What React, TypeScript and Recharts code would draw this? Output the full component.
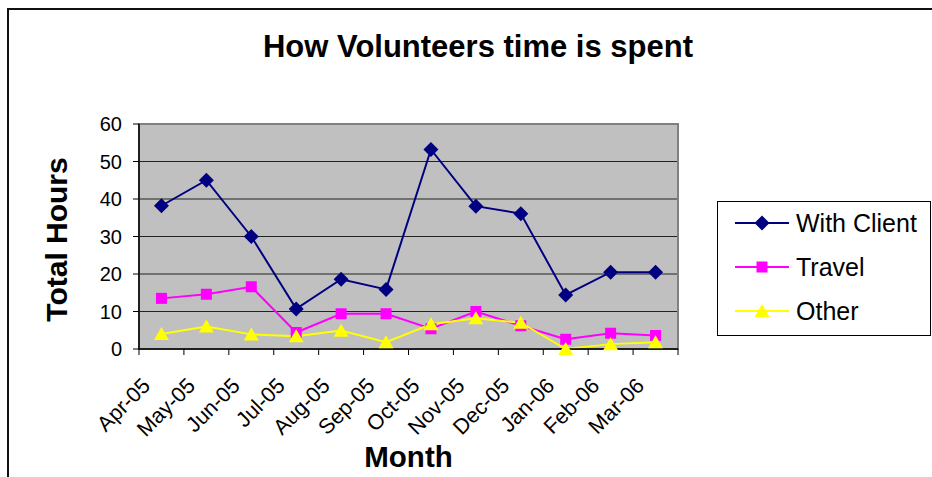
import React from 'react';
import { LineChart, Line, XAxis, YAxis, CartesianGrid, ReferenceArea, Legend, Label } from 'recharts';

const months = ['Apr-05', 'May-05', 'Jun-05', 'Jul-05', 'Aug-05', 'Sep-05', 'Oct-05', 'Nov-05', 'Dec-05', 'Jan-06', 'Feb-06', 'Mar-06'];
const withClient = [38.2, 45, 30, 10.7, 18.6, 15.9, 53.2, 38.1, 36.1, 14.4, 20.5, 20.5];
const travel = [13.5, 14.6, 16.6, 4.4, 9.4, 9.4, 5.4, 10, 6.2, 2.6, 4.2, 3.6];
const other = [4.0, 6.0, 3.9, 3.4, 4.9, 1.8, 6.6, 8.2, 7.0, 0, 1.3, 1.8];
const yTicks = [0, 10, 20, 30, 40, 50, 60];

const data = months.map((m, i) => ({
  pos: i + 0.5,
  month: m,
  client: withClient[i],
  travel: travel[i],
  other: other[i],
}));

const xTicks: number[] = [];
for (let i = 0; i <= months.length * 2; i++) xTicks.push(i / 2);

const FONT = '"Liberation Sans", Arial, sans-serif';

const Diamond = (props: any) => {
  const { cx, cy, fill } = props;
  if (cx == null || cy == null) return null;
  const r = 7.5;
  return <polygon points={`${cx},${cy - r} ${cx + r},${cy} ${cx},${cy + r} ${cx - r},${cy}`} fill={fill} />;
};
const Square = (props: any) => {
  const { cx, cy, fill } = props;
  if (cx == null || cy == null) return null;
  const s = 11;
  return <rect x={cx - s / 2} y={cy - s / 2} width={s} height={s} fill={fill} />;
};
const Triangle = (props: any) => {
  const { cx, cy, fill } = props;
  if (cx == null || cy == null) return null;
  return <polygon points={`${cx},${cy - 7} ${cx + 7.5},${cy + 6} ${cx - 7.5},${cy + 6}`} fill={fill} />;
};

const series = [
  { key: 'client', name: 'With Client', color: '#000080', Shape: Diamond },
  { key: 'travel', name: 'Travel', color: '#FF00FF', Shape: Square },
  { key: 'other', name: 'Other', color: '#FFFF00', Shape: Triangle },
];

const XTick = (props: any) => {
  const { x, y, payload } = props;
  const v = payload.value as number;
  if (Number.isInteger(v)) {
    return <line x1={x} x2={x} y1={y - 8} y2={y - 2} stroke="#000" strokeWidth={1} />;
  }
  const label = months[Math.floor(v)];
  const ax = x - 10;
  const ay = y + 30;
  return (
    <text x={ax} y={ay} textAnchor="end" fontSize={21.5} fontFamily={FONT} fill="#000" transform={`rotate(-45 ${ax} ${ay})`}>
      {label}
    </text>
  );
};

const LegendContent = () => (
  <div style={{ width: 212, height: 133, border: '1px solid #000', background: '#fff' }}>
    <svg width={212} height={133}>
      {series.map((s, i) => {
        const cy = 21 + i * 44;
        const Shape = s.Shape;
        return (
          <g key={s.key}>
            <line x1={17} x2={71} y1={cy} y2={cy} stroke={s.color} strokeWidth={2} />
            <Shape cx={44} cy={cy} fill={s.color} />
            <text x={78} y={cy + 9} fontSize={25} fontFamily={FONT} fill="#000">{s.name}</text>
          </g>
        );
      })}
    </svg>
  </div>
);

export default function App() {
  return (
    <div style={{ position: 'absolute', left: 0, top: 0, width: 932, height: 477, background: '#fff', overflow: 'hidden' }}>
      <div style={{ position: 'absolute', left: 7, top: 8, width: 940, height: 480, borderLeft: '2px solid #111', borderTop: '2px solid #111' }} />
      <div style={{ position: 'absolute', left: 0, top: 29, width: 956, textAlign: 'center', fontFamily: FONT, fontWeight: 'bold', fontSize: 31, color: '#000', lineHeight: '36px' }}>
        How Volunteers time is spent
      </div>
      <div style={{ position: 'absolute', left: 0, top: 0 }}>
        <LineChart width={932} height={477} data={data} margin={{ top: 124, right: 254, bottom: 0, left: 0 }}>
          <CartesianGrid horizontal vertical={false} stroke="#222" fill="#C0C0C0" fillOpacity={1} />
          <ReferenceArea x1={0} x2={12} y1={0} y2={60} fill="none" stroke="#808080" strokeWidth={2} ifOverflow="visible" />
          <XAxis
            type="number"
            dataKey="pos"
            domain={[0, 12]}
            ticks={xTicks}
            interval={0}
            height={128}
            tickLine={false}
            axisLine={{ stroke: '#000', strokeWidth: 1.5 }}
            tick={<XTick />}
            allowDecimals
          >
            <Label
              content={(p: any) => {
                const vb = p.viewBox;
                return (
                  <text x={vb.x + vb.width / 2} y={vb.y + 118} textAnchor="middle" fontSize={29.5} fontWeight="bold" fontFamily={FONT} fill="#000">
                    Month
                  </text>
                );
              }}
            />
          </XAxis>
          <YAxis
            domain={[0, 60]}
            ticks={yTicks}
            width={139}
            tickSize={6}
            tickLine={{ stroke: '#000' }}
            axisLine={{ stroke: '#000', strokeWidth: 1.5 }}
            tick={{ fill: '#000', fontSize: 20, fontFamily: FONT }}
            tickMargin={11}
          >
            <Label
              content={(p: any) => {
                const vb = p.viewBox;
                const cx = vb.x + 67;
                const cy = vb.y + vb.height / 2 + 3;
                return (
                  <text x={cx} y={cy} textAnchor="middle" fontSize={30} fontWeight="bold" fontFamily={FONT} fill="#000" transform={`rotate(-90 ${cx} ${cy})`}>
                    Total Hours
                  </text>
                );
              }}
            />
          </YAxis>
          <Legend
            layout="vertical"
            align="center"
            verticalAlign="middle"
            content={<LegendContent />}
            wrapperStyle={{ left: 717, top: 201, width: 214, height: 135 }}
          />
          {series.map((s) => (
            <Line
              key={s.key}
              type="linear"
              dataKey={s.key}
              name={s.name}
              stroke={s.color}
              strokeWidth={2}
              isAnimationActive={false}
              dot={(dp: any) => <s.Shape key={`${s.key}-${dp.index}`} cx={dp.cx} cy={dp.cy} fill={s.color} />}
              activeDot={false}
            />
          ))}
        </LineChart>
      </div>
    </div>
  );
}
